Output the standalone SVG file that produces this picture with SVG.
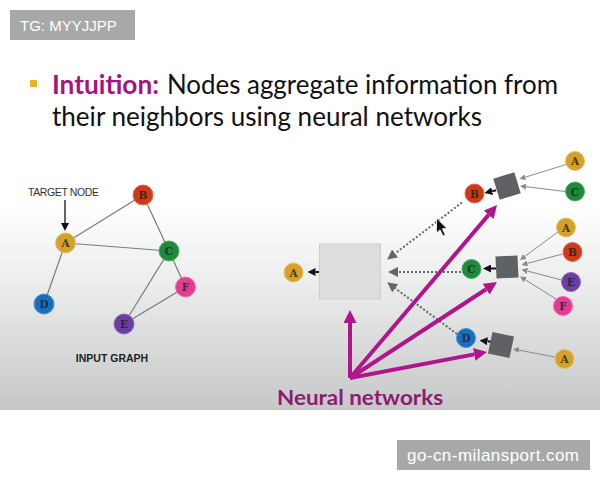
<svg xmlns="http://www.w3.org/2000/svg" width="600" height="480" viewBox="0 0 600 480">
<defs>
<linearGradient id="bg" x1="0" y1="0" x2="0" y2="410" gradientUnits="userSpaceOnUse">
<stop offset="0" stop-color="#ffffff"/>
<stop offset="0.5" stop-color="#ffffff"/>
<stop offset="0.72" stop-color="#e8e9e9"/>
<stop offset="1" stop-color="#c6c8c8"/>
</linearGradient>
<marker id="ahM" markerUnits="userSpaceOnUse" markerWidth="13" markerHeight="13" viewBox="0 -6.5 13 13" refX="0" refY="0" orient="auto"><path d="M0,-6.5 L13,0 L0,6.5 Z" fill="#b0168c"/></marker>
<marker id="ahD" markerUnits="userSpaceOnUse" markerWidth="10" markerHeight="10" viewBox="0 -5 10 10" refX="0" refY="0" orient="auto"><path d="M0,-5 L10,0 L0,5 Z" fill="#666"/></marker>
<marker id="ahK" markerUnits="userSpaceOnUse" markerWidth="8" markerHeight="8" viewBox="0 -4 8 8" refX="0" refY="0" orient="auto"><path d="M0,-4 L8,0 L0,4 Z" fill="#111"/></marker>
<marker id="ahG" markerUnits="userSpaceOnUse" markerWidth="6" markerHeight="6" viewBox="0 -3 6 6" refX="0" refY="0" orient="auto"><path d="M0,-3 L6,0 L0,3 Z" fill="#8a8a8a"/></marker>
<style>
.edge{stroke:#7a7a7a;stroke-width:1.2;fill:none}
.nn{stroke:#b0168c;stroke-width:4;fill:none;marker-end:url(#ahM)}
.dot{stroke:#666;stroke-width:2;stroke-dasharray:2 2;fill:none;marker-end:url(#ahD)}
.blk{stroke:#111;stroke-width:2;fill:none;marker-end:url(#ahK)}
.thin{stroke:#8a8a8a;stroke-width:1;fill:none;marker-end:url(#ahG)}
.lbl{font-family:"DejaVu Serif","Liberation Serif",serif;font-weight:bold;font-size:10.5px;fill:#1e1e1e;fill-opacity:0.8;text-anchor:middle}
.a{fill:#d4a12a;stroke:#e6c260;stroke-width:1}
.b{fill:#cc3a17;stroke:#de6a4a;stroke-width:1}
.c{fill:#1f8a3c;stroke:#4fa865;stroke-width:1}
.d{fill:#1a6ec0;stroke:#4a90d4;stroke-width:1}
.e{fill:#6b3fa0;stroke:#8e68bb;stroke-width:1}
.f{fill:#e13d95;stroke:#ec70b0;stroke-width:1}
.agg{fill:#5f6165}
.wm{fill:#a8a8a8}
.wmt{font-family:"Liberation Sans",Arial,sans-serif;fill:#ffffff}
</style>
</defs>
<rect x="0" y="0" width="600" height="410" fill="url(#bg)"/>
<rect x="0" y="410" width="600" height="70" fill="#ffffff"/>

<g id="watermark-tg"><rect class="wm" x="10" y="10" width="125" height="30"/><text class="wmt" x="20" y="31" font-size="15">TG: MYYJJPP</text></g>

<g id="title">
<rect x="30" y="80" width="7" height="7" fill="#e6b528"/>
<text x="52" y="94" font-family="Lato,'Open Sans',sans-serif" font-size="26" font-weight="bold" fill="#a3157f" textLength="107" lengthAdjust="spacingAndGlyphs">Intuition:</text>
<text x="167" y="94" font-family="Lato,'Open Sans',sans-serif" font-size="26" fill="#111" textLength="391" lengthAdjust="spacingAndGlyphs">Nodes aggregate information from</text>
<text x="52" y="126" font-family="Lato,'Open Sans',sans-serif" font-size="26" fill="#111" textLength="430" lengthAdjust="spacingAndGlyphs">their neighbors using neural networks</text>
</g>

<g id="input-graph-edges">
<line class="edge" x1="65.5" y1="243" x2="143" y2="195"/>
<line class="edge" x1="65.5" y1="243" x2="169" y2="251"/>
<line class="edge" x1="65.5" y1="243" x2="44" y2="304"/>
<line class="edge" x1="143" y1="195" x2="169" y2="251"/>
<line class="edge" x1="169" y1="251" x2="185.5" y2="287"/>
<line class="edge" x1="169" y1="251" x2="124" y2="324"/>
<line class="edge" x1="124" y1="324" x2="185.5" y2="287"/>
<line x1="65" y1="200" x2="65" y2="223" stroke="#111" stroke-width="1.3" marker-end="url(#ahK)"/>
</g>
<text x="28" y="196" font-family="Liberation Sans,Arial,sans-serif" font-size="10.5" fill="#333" textLength="71">TARGET NODE</text>
<g id="g-A"><circle class="a" cx="65.5" cy="243" r="10"/><text class="lbl" x="65.5" y="247">A</text></g>
<g id="g-B"><circle class="b" cx="143" cy="195" r="10"/><text class="lbl" x="143" y="199">B</text></g>
<g id="g-C"><circle class="c" cx="169" cy="251" r="10"/><text class="lbl" x="169" y="255">C</text></g>
<g id="g-D"><circle class="d" cx="44" cy="304" r="10"/><text class="lbl" x="44" y="308">D</text></g>
<g id="g-E"><circle class="e" cx="124" cy="324" r="10"/><text class="lbl" x="124" y="328">E</text></g>
<g id="g-F"><circle class="f" cx="185.5" cy="287" r="10"/><text class="lbl" x="185.5" y="291">F</text></g>
<text x="112" y="362" font-family="Liberation Sans,Arial,sans-serif" font-size="10.5" font-weight="bold" fill="#222" text-anchor="middle">INPUT GRAPH</text>

<g id="connectors">
<line class="thin" x1="566" y1="164.5" x2="525.2" y2="177.2"/>
<line class="thin" x1="565.5" y1="191.5" x2="526" y2="186.7"/>
<line class="thin" x1="558" y1="232" x2="524.8" y2="256.4"/>
<line class="thin" x1="562.5" y1="254" x2="527.3" y2="263.4"/>
<line class="thin" x1="561.5" y1="280" x2="527.3" y2="271"/>
<line class="thin" x1="556" y1="299" x2="525.1" y2="279.7"/>
<line class="thin" x1="554.5" y1="357" x2="518.9" y2="350.1"/>
<line class="blk" x1="496" y1="190.3" x2="492.2" y2="191.2"/>
<line class="blk" x1="496" y1="268.5" x2="491" y2="268.5"/>
<line class="blk" x1="491" y1="341.7" x2="487.5" y2="341.3"/>
<line class="blk" x1="319" y1="272" x2="315.5" y2="272"/>
<line class="dot" x1="462" y1="202.5" x2="395.1" y2="253.5"/>
<line class="dot" x1="461" y1="272" x2="398" y2="272"/>
<line class="dot" x1="457" y1="334" x2="395.2" y2="288.3"/>
<line class="nn" x1="350" y1="378" x2="350" y2="323"/>
<line class="nn" x1="350" y1="378" x2="488.6" y2="214.9"/>
<line class="nn" x1="350" y1="378" x2="486.1" y2="289.2"/>
<line class="nn" x1="350" y1="378" x2="474.2" y2="354.4"/>
</g>

<g id="agg-main"><rect x="319.5" y="244" width="61" height="55" fill="#dcdddd" stroke="#cdcfcf" stroke-width="1"/></g>
<g id="agg-B"><rect class="agg" x="-11" y="-11" width="22" height="22" transform="translate(507,186) rotate(-17)"/></g>
<g id="agg-C"><rect class="agg" x="-11" y="-11" width="22" height="22" transform="translate(507,267) rotate(-3)"/></g>
<g id="agg-D"><rect class="agg" x="-11" y="-11" width="22" height="22" transform="translate(501,345) rotate(12)"/></g>

<g id="r-A0"><circle class="a" cx="293.5" cy="272.5" r="9.5"/><text class="lbl" x="293.5" y="276.5">A</text></g>
<g id="r-B"><circle class="b" cx="474.5" cy="193.5" r="9.5"/><text class="lbl" x="474.5" y="197.5">B</text></g>
<g id="r-C"><circle class="c" cx="471.5" cy="269" r="9.5"/><text class="lbl" x="471.5" y="273">C</text></g>
<g id="r-D"><circle class="d" cx="466" cy="338" r="9.5"/><text class="lbl" x="466" y="342">D</text></g>
<g id="r-BA"><circle class="a" cx="575" cy="161" r="9.5"/><text class="lbl" x="575" y="165">A</text></g>
<g id="r-BC"><circle class="c" cx="575" cy="191.5" r="9.5"/><text class="lbl" x="575" y="195.5">C</text></g>
<g id="r-CA"><circle class="a" cx="566" cy="227.5" r="9.5"/><text class="lbl" x="566" y="231.5">A</text></g>
<g id="r-CB"><circle class="b" cx="572.5" cy="252" r="9.5"/><text class="lbl" x="572.5" y="256">B</text></g>
<g id="r-CE"><circle class="e" cx="571" cy="282" r="9.5"/><text class="lbl" x="571" y="286">E</text></g>
<g id="r-CF"><circle class="f" cx="563" cy="306" r="9.5"/><text class="lbl" x="563" y="310">F</text></g>
<g id="r-DA"><circle class="a" cx="564.5" cy="359" r="9.5"/><text class="lbl" x="564.5" y="363">A</text></g>

<path d="M436.5,218 L436.5,233 L440,229.8 L443,236 L445.3,235 L442.4,228.8 L447,228.5 Z" fill="#111" stroke="#fff" stroke-width="0.8"/>

<text x="277" y="405" font-family="Lato,'Open Sans',sans-serif" font-size="21" font-weight="bold" fill="#8e1a72" textLength="166" lengthAdjust="spacingAndGlyphs">Neural networks</text>

<g id="watermark-site"><rect class="wm" x="397" y="440" width="193" height="30"/><text class="wmt" x="407" y="461" font-size="17" textLength="172">go-cn-milansport.com</text></g>
</svg>
